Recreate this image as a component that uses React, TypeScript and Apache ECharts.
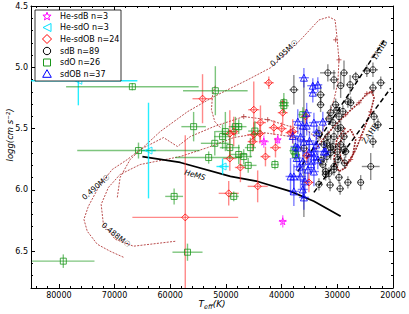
import React, { useEffect, useRef } from "react";
import * as echarts from "echarts";

// ---------------- data (Teff [K], log g, err Teff, err log g) ----------------
const heSdB: number[][] = [
  [39800, 6.256, 700, 0.05],
  [43200, 5.606, 900, 0.05],
  [40700, 5.59, 600, 0.04],
];
const heSdO: number[][] = [
  [76500, 5.11, 10600, 0.2],
  [63900, 5.679, 1300, 0.39],
  [50600, 5.809, 1100, 0.065],
];
const heSdOB: number[][] = [
  [54200, 5.256, 1800, 0.2],
  [42300, 5.126, 900, 0.05],
  [45000, 5.346, 1000, 0.23],
  [39800, 5.37, 900, 0.1],
  [43800, 5.451, 1000, 0.14],
  [48600, 5.524, 900, 0.12],
  [49300, 5.541, 1400, 0.19],
  [45000, 5.549, 1200, 0.1],
  [43900, 5.541, 900, 0.08],
  [41400, 5.492, 900, 0.06],
  [49300, 5.744, 1200, 0.1],
  [47400, 5.817, 1000, 0.12],
  [42900, 5.728, 900, 0.08],
  [41100, 5.655, 1000, 0.08],
  [38400, 5.533, 900, 0.06],
  [49500, 6.028, 1800, 0.1],
  [44300, 5.971, 1800, 0.13],
  [57300, 6.224, 9500, 0.67],
  [35100, 5.939, 900, 0.08],
  [38000, 5.524, 1000, 0.1],
  [45200, 5.606, 900, 0.08],
  [40000, 5.5, 900, 0.05],
  [35500, 5.72, 800, 0.06],
  [35700, 5.4, 800, 0.06],
];
const sdB: number[][] = [
  [31700, 5.045, 1400, 0.07], [30600, 5.102, 800, 0.08], [28800, 5.045, 700, 0.1],
  [26700, 5.077, 700, 0.04], [24700, 5.029, 800, 0.05], [23600, 5.02, 900, 0.06],
  [22200, 5.126, 800, 0.05], [23600, 5.167, 700, 0.05], [27700, 5.142, 700, 0.08],
  [29400, 5.15, 700, 0.1], [37800, 5.183, 800, 0.12], [33000, 5.224, 800, 0.08],
  [33000, 5.305, 700, 0.06], [31200, 5.37, 800, 0.06], [28100, 5.28, 700, 0.05],
  [27600, 5.289, 700, 0.05], [23400, 5.402, 700, 0.05], [22700, 5.468, 700, 0.05],
  [23600, 5.606, 700, 0.05], [30800, 5.451, 700, 0.05], [29700, 5.402, 700, 0.05],
  [29400, 5.492, 700, 0.06], [30600, 5.565, 700, 0.05], [28800, 5.565, 700, 0.05],
  [29400, 5.63, 700, 0.05], [31200, 5.655, 700, 0.08], [28800, 5.671, 700, 0.05],
  [32400, 5.63, 700, 0.06], [32600, 5.793, 700, 0.05], [30600, 5.809, 700, 0.05],
  [31700, 5.565, 700, 0.05], [30800, 5.646, 700, 0.05], [31200, 5.695, 700, 0.06],
  [28500, 5.687, 700, 0.05], [30600, 5.833, 700, 0.05], [32100, 5.85, 700, 0.05],
  [32100, 5.874, 700, 0.05], [29700, 5.898, 700, 0.05], [28100, 5.939, 700, 0.05],
  [33300, 5.955, 700, 0.05], [24000, 5.809, 1600, 0.11], [25800, 5.939, 600, 0.06],
  [36000, 5.66, 700, 0.56], [30300, 5.305, 700, 0.05], [31500, 5.419, 700, 0.05],
  [29900, 5.5, 700, 0.05], [33300, 5.541, 700, 0.06], [31900, 5.728, 700, 0.05],
  [29900, 5.752, 700, 0.05], [31500, 5.866, 700, 0.05], [30100, 5.35, 700, 0.05],
  [29000, 5.36, 700, 0.05], [31900, 5.62, 700, 0.05], [30000, 5.69, 700, 0.05],
  [32900, 5.76, 700, 0.05], [28700, 5.78, 700, 0.05], [31300, 5.96, 700, 0.05],
  [29500, 5.99, 700, 0.05],
];
const sdO: number[][] = [
  [66800, 5.158, 11900, 0.03], [65700, 5.679, 11000, 0.065], [55800, 5.484, 2200, 0.12],
  [51900, 5.191, 5800, 0.2], [59300, 6.053, 1600, 0.065], [56900, 6.508, 2700, 0.07],
  [79200, 6.581, 5600, 0.055], [48600, 6.053, 900, 0.04], [41200, 5.793, 700, 0.04],
  [53100, 5.736, 6000, 0.05], [50100, 5.524, 1800, 0.16], [50600, 5.565, 1500, 0.1],
  [48300, 5.484, 1200, 0.08], [47700, 5.484, 1400, 0.06], [45600, 5.655, 1000, 0.08],
  [49300, 5.655, 1800, 0.08], [47700, 5.711, 1500, 0.08], [46800, 5.728, 1500, 0.06],
  [39600, 5.289, 900, 0.08], [39600, 5.313, 900, 0.06], [36200, 5.386, 800, 0.06],
  [37500, 5.711, 800, 0.06], [52000, 5.62, 2500, 0.1], [44800, 5.52, 1200, 0.08],
  [46000, 5.8, 1500, 0.06], [37800, 5.68, 800, 0.06],
];
const sdOB: number[][] = [
  [36000, 5.085, 900, 0.08], [34400, 5.15, 1000, 0.06], [33500, 5.142, 800, 0.06],
  [34400, 5.207, 800, 0.08], [37100, 5.443, 900, 0.1], [32600, 5.443, 1400, 0.08],
  [36000, 5.606, 1000, 0.1], [37100, 5.655, 900, 0.08], [35100, 5.695, 900, 0.1],
  [34200, 5.728, 900, 0.08], [33500, 5.752, 900, 0.08], [32400, 5.687, 900, 0.08],
  [36200, 5.768, 1000, 0.1], [34200, 5.85, 900, 0.12], [37800, 5.89, 900, 0.1],
  [36600, 5.89, 1000, 0.1], [36200, 5.996, 900, 0.08], [38400, 5.89, 900, 0.15],
  [35300, 5.834, 900, 0.1], [37800, 6.012, 900, 0.12], [36000, 6.061, 900, 0.1],
  [36200, 5.476, 900, 0.08], [34200, 5.451, 900, 0.08], [36600, 5.565, 900, 0.08],
  [37500, 5.646, 900, 0.08], [34200, 5.687, 900, 0.08], [32100, 5.687, 900, 0.06],
  [35500, 5.476, 900, 0.08], [35000, 5.6, 900, 0.08], [33800, 5.63, 800, 0.06],
  [37300, 5.74, 900, 0.08], [35800, 5.93, 900, 0.1], [34700, 5.79, 900, 0.08],
  [36800, 5.81, 1000, 0.1], [33700, 5.53, 800, 0.06], [38000, 5.56, 900, 0.06],
  [35500, 5.37, 900, 0.08],
];

// model lines
const hemsTeff = [65000, 58200, 49200, 44300, 38400, 34200, 29400];
const hemsLogg = [5.728, 5.776, 5.89, 5.931, 6.012, 6.093, 6.215];
const zahbTeff = [34200, 20400];
const zahbLogg = [6.02, 5.17];
const tahbTeff = [37100, 21300];
const tahbLogg = [5.85, 4.76];

// evolutionary tracks [Teff, log g]
const track495: number[][] = [
  [69500, 6.061], [69000, 5.898], [67200, 5.752], [61800, 5.524], [56900, 5.362],
  [52200, 5.24], [46100, 5.102], [42000, 5.004], [36600, 4.776], [33300, 4.614],
  [31500, 4.589], [30400, 4.614], [30100, 4.736], [29700, 4.939], [29900, 5.126],
  [30600, 5.264], [31500, 5.386], [32600, 5.508], [33000, 5.59],
];
const track490: number[][] = [
  [68400, 6.549], [70800, 6.5], [73100, 6.443], [74900, 6.337], [75500, 6.24],
  [74700, 6.134], [72600, 5.955], [70400, 5.833], [67700, 5.752], [65400, 5.671],
  [61200, 5.573], [58700, 5.646], [56400, 5.565], [52200, 5.484], [46800, 5.402],
  [42500, 5.427], [38400, 5.484], [35700, 5.508], [33300, 5.59],
];
const track488: number[][] = [
  [59100, 6.419], [63600, 6.443], [66600, 6.459], [69900, 6.402], [72000, 6.281],
  [72400, 6.118], [71100, 5.98], [69000, 5.874], [65400, 5.793], [58200, 5.728],
  [53300, 5.655], [48600, 5.573], [43200, 5.533], [38400, 5.565], [34800, 5.606],
];
const trackHook: number[][] = [
  [51900, 5.15], [52400, 5.224], [52600, 5.346], [52000, 5.443], [51000, 5.492],
];
const trackLoops: number[][] = [
  [33900, 5.671], [32600, 5.59], [30800, 5.492], [28500, 5.386], [26100, 5.289],
  [24700, 5.215], [23800, 5.199], [23400, 5.248], [24000, 5.362], [24900, 5.468],
  [25800, 5.573], [26700, 5.671], [27600, 5.752], [28500, 5.793], [29400, 5.736],
  [29700, 5.63], [28800, 5.549], [27600, 5.508], [26700, 5.59], [27200, 5.711],
  [28500, 5.817], [29700, 5.85], [30600, 5.752], [30100, 5.59], [28500, 5.492],
];
const trackMarks: number[][] = [
  [30300, 4.776], [29700, 4.939], [46800, 5.402], [39800, 5.28], [42500, 5.427],
  [24700, 5.215], [23800, 5.199], [24000, 5.362], [26100, 5.289], [25800, 5.573],
  [27600, 5.752], [28500, 5.386],
];

const legendNames = ["He-sdB n=3", "He-sdO n=3", "He-sdOB n=24", "sdB n=89", "sdO n=26", "sdOB n=37"];

// ---------------- styling ----------------
const STAR =
  "path://M5,0 L6.2,3.6 L10,3.6 L6.9,5.9 L8.1,9.5 L5,7.3 L1.9,9.5 L3.1,5.9 L0,3.6 L3.8,3.6 Z";
const LEFT_TRI = "path://M0,5 L10,0 L10,10 Z";
const PLUS = "path://M5,0 L5,10 M0,5 L10,5";
const TRACK = "#b23a3a";

const cats = [
  { data: heSdB, symbol: STAR, size: 7, color: "#ff00ff", bar: "rgba(255,0,255,0.55)" },
  { data: heSdO, symbol: LEFT_TRI, size: 7, color: "#00e0ff", bar: "rgba(0,235,255,0.85)" },
  { data: heSdOB, symbol: "diamond", size: 7, color: "#ff0000", bar: "rgba(255,40,40,0.55)" },
  { data: sdB, symbol: "circle", size: 6, color: "#000000", bar: "rgba(0,0,0,0.45)" },
  { data: sdO, symbol: "rect", size: 6, color: "#1a961a", bar: "rgba(20,150,20,0.55)" },
  { data: sdOB, symbol: "triangle", size: 7, color: "#0000ff", bar: "rgba(0,0,255,0.5)" },
];

const zip = (a: number[], b: number[]) => a.map((v, i) => [v, b[i]]);

function errRender(color: string) {
  return (params: any, api: any) => {
    const t = api.value(0), g = api.value(1), et = api.value(2), eg = api.value(3);
    const cs = params.coordSys;
    const cx = (v: number) => Math.max(cs.x, Math.min(cs.x + cs.width, v));
    const cy = (v: number) => Math.max(cs.y, Math.min(cs.y + cs.height, v));
    const a = api.coord([t - et, g]);
    const b = api.coord([t + et, g]);
    const c = api.coord([t, g - eg]);
    const d = api.coord([t, g + eg]);
    const style = { stroke: color, lineWidth: 1.4, fill: "none" };
    return {
      type: "group",
      children: [
        { type: "line", shape: { x1: cx(a[0]), y1: a[1], x2: cx(b[0]), y2: b[1] }, style },
        { type: "line", shape: { x1: c[0], y1: cy(c[1]), x2: d[0], y2: cy(d[1]) }, style },
      ],
    };
  };
}

function legendGraphic() {
  const els: any[] = [];
  const x0 = 35, y0 = 10, w = 86, h = 71;
  els.push({ type: "rect", shape: { x: x0, y: y0, width: w, height: h }, style: { fill: "#fff", stroke: "#000", lineWidth: 0.8 }, z: 100 });
  const rows = [16, 27.5, 39, 51, 62.5, 74];
  const sx = 47;
  rows.forEach((ry, i) => {
    const c = cats[i].color;
    const st = { fill: "none", stroke: c, lineWidth: 1 };
    if (i === 0) {
      const pts: number[][] = [];
      for (let k = 0; k < 10; k++) {
        const ang = -Math.PI / 2 + (k * Math.PI) / 5;
        const r = k % 2 === 0 ? 4.3 : 1.8;
        pts.push([sx + r * Math.cos(ang), ry + 0.5 + r * Math.sin(ang)]);
      }
      els.push({ type: "polygon", shape: { points: pts }, style: st, z: 101 });
    } else if (i === 1) {
      els.push({ type: "polygon", shape: { points: [[sx - 4, ry], [sx + 4, ry - 4], [sx + 4, ry + 4]] }, style: st, z: 101 });
    } else if (i === 2) {
      els.push({ type: "polygon", shape: { points: [[sx, ry - 4.5], [sx + 4.5, ry], [sx, ry + 4.5], [sx - 4.5, ry]] }, style: st, z: 101 });
    } else if (i === 3) {
      els.push({ type: "circle", shape: { cx: sx, cy: ry, r: 3.7 }, style: st, z: 101 });
    } else if (i === 4) {
      els.push({ type: "rect", shape: { x: sx - 3.5, y: ry - 3.5, width: 7, height: 7 }, style: st, z: 101 });
    } else {
      els.push({ type: "polygon", shape: { points: [[sx, ry - 4.3], [sx + 4.3, ry + 3.3], [sx - 4.3, ry + 3.3]] }, style: st, z: 101 });
    }
    els.push({
      type: "text", x: 60, y: ry, z: 101,
      style: { text: legendNames[i], fontSize: 8, fontFamily: "DejaVu Sans", fill: "#000", verticalAlign: "middle", align: "left" },
    });
  });
  return els;
}

function labelGraphic() {
  const t = (text: string, x: number, y: number, rot: number, extra: any = {}) => ({
    type: "text", x, y, rotation: rot, z: 50,
    style: { text, fontSize: 7.5, fontFamily: "DejaVu Sans", fill: "#000", align: "center", verticalAlign: "middle", ...extra },
  });
  return [
    t("0.495M☉", 284, 53, 0.75),
    t("0.490M☉", 96, 187, 0.72),
    t("0.488M☉", 116, 235, -0.68),
    t("HeMS", 195, 175, -0.27, { fontStyle: "italic", fontSize: 7.5 }),
    t("TAHB", 379, 50, 1.0, { fontFamily: "Liberation Serif", fontSize: 8.5 }),
    t("ZAHB", 370, 133, 0.95, { fontFamily: "Liberation Serif", fontSize: 8.5 }),
    {
      type: "text", x: 212, y: 304, z: 50,
      style: {
        text: "{i|T}{s|eff}{i|(K)}", align: "center", verticalAlign: "middle",
        rich: {
          i: { fontSize: 9, fontStyle: "italic", fontFamily: "DejaVu Sans", fill: "#000" },
          s: { fontSize: 6.5, fontStyle: "italic", fontFamily: "DejaVu Sans", fill: "#000", padding: [5, 0, 0, 0] },
        },
      },
    },
    {
      type: "text", x: 10, y: 135, rotation: Math.PI / 2, z: 50,
      style: { text: "logg(cm s⁻²)", fontSize: 8.5, fontStyle: "italic", fontFamily: "DejaVu Sans", fill: "#000", align: "center", verticalAlign: "middle" },
    },
  ];
}

export default function App() {
  const ref = useRef<HTMLDivElement>(null);
  useEffect(() => {
    if (!ref.current) return;
    const chart = echarts.init(ref.current, undefined, { renderer: "svg" });
    const grid = { left: 31, top: 6, width: 362, height: 282 };
    const axisBase = {
      type: "value" as const,
      splitLine: { show: false },
      axisLine: { show: true, onZero: false, lineStyle: { color: "#000", width: 1 } },
    };
    const xMajor = {
      ...axisBase, min: 20000, max: 85000, interval: 10000, inverse: true,
      axisTick: { show: true, inside: true, length: 4, lineStyle: { color: "#000" } },
    };
    const yMajor = {
      ...axisBase, min: 4.5, max: 6.8, interval: 0.5, inverse: true,
      axisTick: { show: true, inside: true, length: 4, lineStyle: { color: "#000" } },
    };
    const xMinor = {
      ...axisBase, gridIndex: 1, min: 20000, max: 85000, interval: 2000, inverse: true,
      axisLine: { show: false }, axisLabel: { show: false },
      axisTick: { show: true, inside: true, length: 2, lineStyle: { color: "#000" } },
    };
    const yMinor = {
      ...axisBase, gridIndex: 1, min: 4.5, max: 6.8, interval: 0.1, inverse: true,
      axisLine: { show: false }, axisLabel: { show: false },
      axisTick: { show: true, inside: true, length: 2, lineStyle: { color: "#000" } },
    };

    const series: any[] = [];
    const lineS = (data: number[][], color: string, width: number, type: any) => ({
      type: "line", xAxisIndex: 0, yAxisIndex: 0, data, showSymbol: false, symbol: "none",
      silent: true, lineStyle: { color, width, type }, z: 1,
    });
    series.push(lineS(track495, TRACK, 0.9, [2, 1.3]));
    series.push(lineS(track490, TRACK, 0.9, [2, 1.3]));
    series.push(lineS(track488, TRACK, 0.9, [2, 1.3]));
    series.push(lineS(trackHook, TRACK, 0.9, [2, 1.3]));
    series.push(lineS(trackLoops, "#9a2525", 1.6, [2, 1]));
    series.push({
      type: "scatter", xAxisIndex: 0, yAxisIndex: 0, data: trackMarks, symbol: PLUS, symbolSize: 5,
      itemStyle: { color: "none", borderColor: TRACK, borderWidth: 1 }, silent: true, z: 1,
    });
    series.push(lineS(zip(zahbTeff, zahbLogg), "#000", 1.5, [5, 3]));
    series.push(lineS(zip(tahbTeff, tahbLogg), "#000", 1.5, [5, 3]));
    series.push(lineS(zip(hemsTeff, hemsLogg), "#000", 1.7, "solid"));

    cats.forEach((c) => {
      series.push({
        type: "custom", xAxisIndex: 0, yAxisIndex: 0, data: c.data,
        encode: { x: 0, y: 1 }, renderItem: errRender(c.bar), silent: true, z: 3,
      });
    });
    cats.forEach((c) => {
      series.push({
        type: "scatter", xAxisIndex: 0, yAxisIndex: 0,
        data: c.data.map((d) => [d[0], d[1]]),
        symbol: c.symbol, symbolSize: c.size,
        itemStyle: { color: "rgba(0,0,0,0)", borderColor: c.color, borderWidth: 1 },
        silent: true, z: 4,
      });
    });
    series.push({ type: "scatter", xAxisIndex: 2, yAxisIndex: 2, data: [] });

    chart.setOption({
      animation: false,
      textStyle: { fontFamily: "DejaVu Sans" },
      grid: [grid, grid],
      xAxis: [
        {
          ...xMajor, gridIndex: 0, position: "bottom",
          axisLabel: {
            show: true, fontSize: 8, color: "#000", margin: 3,
            formatter: (v: number) => (v % 10000 === 0 ? String(v) : ""),
          },
        },
        { ...xMajor, gridIndex: 0, position: "top", axisLabel: { show: false } },
        { ...xMinor, position: "bottom" },
        { ...xMinor, position: "top" },
      ],
      yAxis: [
        {
          ...yMajor, gridIndex: 0, position: "left",
          axisLabel: {
            show: true, fontSize: 8, color: "#000", margin: 3,
            formatter: (v: number) =>
              Math.abs(v * 2 - Math.round(v * 2)) < 1e-6 && v < 6.75 ? v.toFixed(1) : "",
          },
        },
        { ...yMajor, gridIndex: 0, position: "right", axisLabel: { show: false } },
        { ...yMinor, position: "left" },
        { ...yMinor, position: "right" },
      ],
      graphic: { elements: [...labelGraphic(), ...legendGraphic()] },
      series,
    });
    return () => chart.dispose();
  }, []);
  return <div ref={ref} style={{ position: "fixed", left: 0, top: 0, width: 409, height: 314, background: "#fff" }} />;
}
